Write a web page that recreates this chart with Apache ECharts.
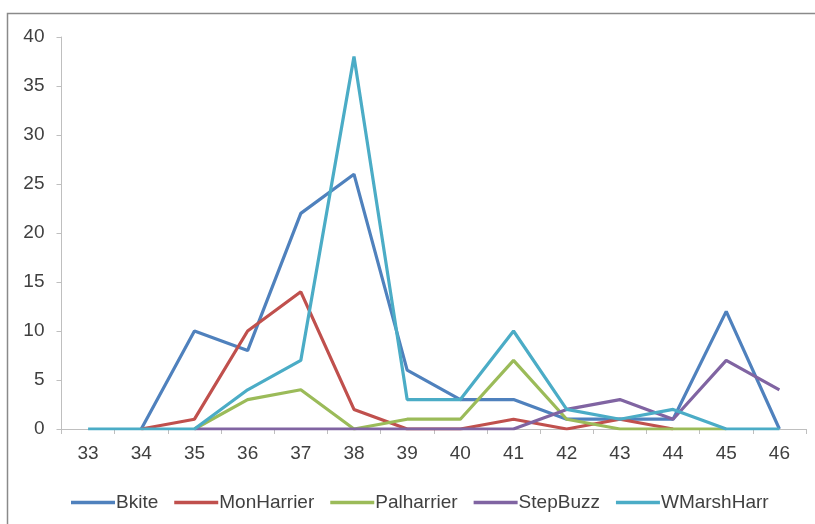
<!DOCTYPE html>
<html>
<head>
<meta charset="utf-8">
<script src="https://cdn.jsdelivr.net/npm/echarts@6/dist/echarts.min.js"></script>
<style>
html,body{margin:0;padding:0;background:#fff;}
#c{width:815px;height:524px;}
</style>
</head>
<body>
<div id="c"></div>
<script>
var categories = ['33','34','35','36','37','38','39','40','41','42','43','44','45','46'];
var seriesNames = ['Bkite','MonHarrier','Palharrier','StepBuzz','WMarshHarr'];
var bkite      = ['-',0,10,8,22,26,6,3,3,1,1,1,12,0];
var monHarrier = ['-',0,1,10,14,2,0,0,1,0,1,0,'-','-'];
var palharrier = ['-','-',0,3,4,0,1,1,7,1,0,0,0,'-'];
var stepBuzz   = ['-','-',0,0,0,0,0,0,0,2,3,1,7,4];
var wMarshHarr = [0,0,0,4,7,38,3,3,10,2,1,2,0,0];
var yTicks = {min:0, max:40, interval:5};

var colors = ['#4F81BD','#C0504D','#9BBB59','#8064A2','#4BACC6'];
var dataSets = [bkite, monHarrier, palharrier, stepBuzz, wMarshHarr];
var font = "'Liberation Sans',sans-serif";

var chart = echarts.init(document.getElementById('c'), null, {renderer:'canvas'});
chart.setOption({
  animation:false,
  backgroundColor:'#fff',
  color:colors,
  graphic:[{
    type:'rect', silent:true,
    shape:{x:7.5,y:13.5,width:900,height:600},
    style:{fill:'none',stroke:'#8a8a8a',lineWidth:1.5}
  }],
  grid:{left:61.5,right:9,top:37,bottom:95,containLabel:false},
  legend:{
    left:66, top:488,
    icon:'rect', itemWidth:44, itemHeight:3.5, itemGap:16,
    textStyle:{fontFamily:font,fontSize:19,color:'#404040',padding:[0,0,0,-4]},
    data:seriesNames
  },
  xAxis:{
    type:'category', data:categories, boundaryGap:true,
    axisLine:{lineStyle:{color:'#bfbfbf',width:1}},
    axisTick:{show:true,interval:0,length:5,lineStyle:{color:'#bfbfbf'}},
    axisLabel:{interval:0,margin:15,fontFamily:font,fontSize:19,color:'#404040'},
    splitLine:{show:false}
  },
  yAxis:{
    type:'value', min:yTicks.min, max:yTicks.max, interval:yTicks.interval,
    axisLine:{show:true,lineStyle:{color:'#bfbfbf',width:1}},
    axisTick:{show:true,length:5,lineStyle:{color:'#bfbfbf'}},
    axisLabel:{margin:17,fontFamily:font,fontSize:19,color:'#404040'},
    splitLine:{show:false}
  },
  series: seriesNames.map(function(n,i){
    return {
      name:n, type:'line', data:dataSets[i],
      showSymbol:false, symbol:'none',
      lineStyle:{width:3.2,color:colors[i]},
      itemStyle:{color:colors[i]},
      connectNulls:false
    };
  })
});
</script>
</body>
</html>
